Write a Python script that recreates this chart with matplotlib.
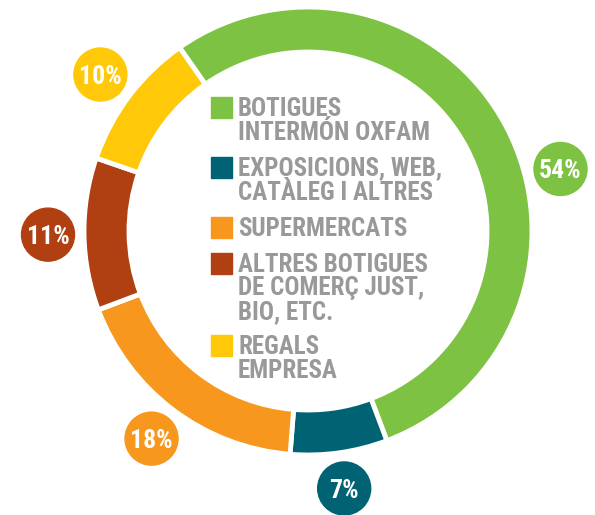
import matplotlib
matplotlib.use("Agg")
import matplotlib.pyplot as plt
from matplotlib.patches import Circle, Rectangle
import numpy as np

categories = ["BOTIGUES\nINTERMÓN OXFAM", "EXPOSICIONS, WEB,\nCATÀLEG I ALTRES", "SUPERMERCATS",
              "ALTRES BOTIGUES\nDE COMERÇ JUST,\nBIO, ETC.", "REGALS\nEMPRESA"]
values = [54, 7, 18, 11, 10]
labels = ["54%", "7%", "18%", "11%", "10%"]
colors = ["#7DC242", "#006272", "#F7971E", "#B04012", "#FFC90A"]

W, H = 595, 515
fig = plt.figure(figsize=(W / 100, H / 100), dpi=100)
ax = fig.add_axes([0, 0, 1, 1])

fam = ["Roboto Condensed", "DejaVu Sans"]
cx, cy, R = 308, H - 231, 224
start = 125
ax.pie(values, colors=colors, startangle=start, counterclock=False,
       center=(cx, cy), radius=R, frame=True,
       wedgeprops=dict(width=45, edgecolor="white", linewidth=3.5))
ax.set_xlim(0, W)
ax.set_ylim(0, H)
ax.set_aspect("equal")
ax.axis("off")

label_offsets = [-14, 0, 0, 0, 0]
ang = start
for v, lab, col, off in zip(values, labels, colors, label_offsets):
    span = v / sum(values) * 360
    mid = ang - span / 2 + off
    ang -= span
    lx = cx + 260 * np.cos(np.radians(mid))
    ly = cy + 260 * np.sin(np.radians(mid))
    ax.add_patch(Circle((lx, ly), 26.5, color=col, zorder=3))
    ax.text(lx, ly, lab, color="white", fontsize=18.5, fontweight="bold", family=fam,
            ha="center", va="center_baseline", zorder=4)

legend_tops = [97, 157, 217, 253, 335]
for cat, col, top in zip(categories, colors, legend_tops):
    ax.add_patch(Rectangle((211, H - top - 21), 21, 21, color=col, zorder=3))
    for i, line in enumerate(cat.split("\n")):
        ax.text(238, H - top - 18.5 - 24 * i, line, color="#999999", fontsize=18,
                fontweight="bold", family=fam, ha="left", va="baseline", zorder=4)

fig.savefig("out.png", dpi=100)
